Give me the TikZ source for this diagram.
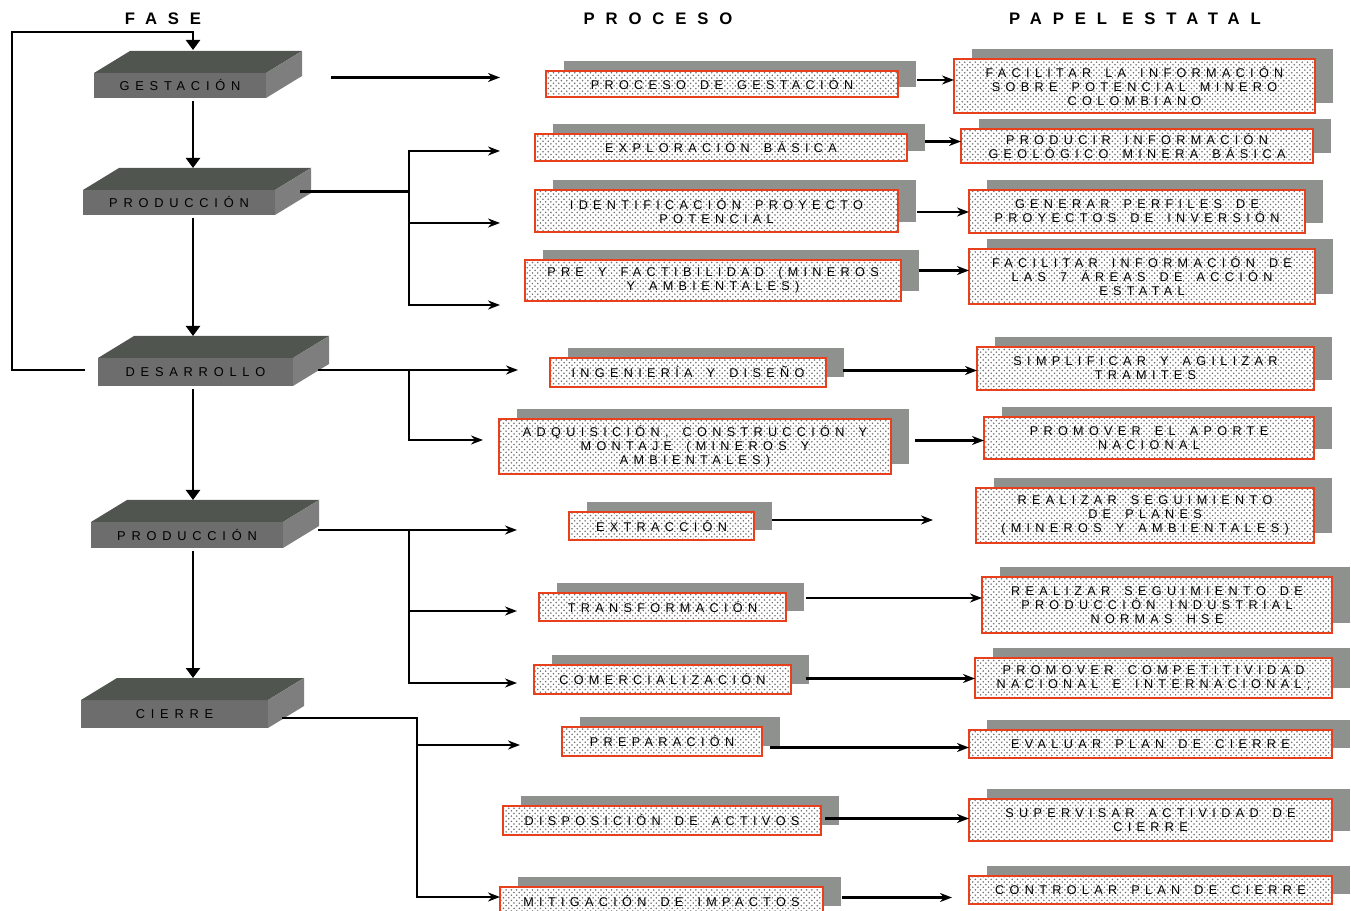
\documentclass[tikz,border=0pt]{standalone}
\usepackage{fontspec}
\setmainfont{Liberation Sans}
\newfontfamily\boxfont[LetterSpace=42, WordSpace=1.6]{Liberation Sans}
\newfontfamily\phasefont[LetterSpace=45]{Liberation Sans}
\newfontfamily\headfont[LetterSpace=65]{Liberation Sans Bold}
\usepackage{tikz}
\usetikzlibrary{arrows.meta, positioning, calc, shadows, patterns}

\definecolor{boxred}{HTML}{E8401C}
\definecolor{shadowgray}{HTML}{8E918E}
\definecolor{phasetop}{HTML}{50554F}
\definecolor{phasefront}{HTML}{6D6D6D}
\definecolor{phaseside}{HTML}{7E7E7E}

\tikzset{
  head/.style={font=\headfont\fontsize{9.5}{10}\selectfont},
  phase/.style={fill=phasefront, inner sep=0pt, outer sep=0pt,
    font=\phasefont\fontsize{7.3}{8}\selectfont},
  pbox/.style={drop shadow={shadow xshift=3.6mm, shadow yshift=2mm, fill=shadowgray, opacity=1},
    preaction={fill=white}, pattern=crosshatch dots, pattern color=black!55,
    draw=boxred, line width=0.55mm, inner sep=0pt, outer sep=0pt, align=center,
    font=\boxfont\fontsize{7.2}{8}\selectfont},
  wire/.style={line width=0.45mm},
  harrow/.style={wire, -{Stealth[length=2.4mm, width=1.8mm]}},
  varrow/.style={wire, -{Triangle[length=2mm, width=2.8mm]}}
}

\begin{document}
\begin{tikzpicture}[x=0.2mm, y=-0.2mm]
  \useasboundingbox (0,0) rectangle (1351,911);

  % Encabezados
  \node[head] (fase) at (163,19) {FASE};
  \node[head] (proceso) at (658,19) {PROCESO};
  \node[head] (papel) at (1135,19) {PAPEL ESTATAL};

  % Fases (bloques en relieve)
  \foreach \n/\xa/\ya/\xb/\yb/\t in {gest/94/73/266/98/GESTACIÓN, prod1/83/190/275/215/PRODUCCIÓN,
      des/98/358/293/386/DESARROLLO, prod2/91/522/283/548/PRODUCCIÓN, cierre/81/700/268/728/CIERRE}{
    \node[phase, minimum width={(\xb-\xa)*0.2mm}, minimum height={(\yb-\ya)*0.2mm}] (\n) at ({(\xa+\xb)/2},{(\ya+\yb)/2}) {\t};
    \fill[phasetop] (\n.north west) -- +(36,-22) -- ([shift={(36,-22)}]\n.north east) -- (\n.north east) -- cycle;
    \fill[phaseside] (\n.north east) -- +(36,-22) -- ([shift={(36,-22)}]\n.south east) -- (\n.south east) -- cycle;
  }

  % Procesos
  \foreach \n/\xa/\ya/\xb/\yb/\t in {
      p1/546/71/898/97/{PROCESO DE GESTACIÓN},
      p2/535/134/907/161/{EXPLORACIÓN BÁSICA},
      p3/535/190/898/232/{IDENTIFICACIÓN PROYECTO\\POTENCIAL},
      p4/525/260/901/301/{PRE Y FACTIBILIDAD (MINEROS\\Y AMBIENTALES)},
      p5/550/358/826/387/{INGENIERÍA Y DISEÑO},
      p6/499/419/891/474/{ADQUISICIÓN, CONSTRUCCIÓN Y\\MONTAJE (MINEROS Y\\AMBIENTALES)},
      p7/569/512/754/540/{EXTRACCIÓN},
      p8/539/593/786/621/{TRANSFORMACIÓN},
      p9/534/665/791/694/{COMERCIALIZACIÓN},
      p10/562/727/762/756/{PREPARACIÓN},
      p11/503/806/821/835/{DISPOSICIÓN DE ACTIVOS},
      p12/500/887/823/916/{MITIGACIÓN DE IMPACTOS}}
    \node[pbox, minimum width={(\xb-\xa)*0.2mm}, minimum height={(\yb-\ya)*0.2mm}] (\n) at ({(\xa+\xb)/2},{(\ya+\yb)/2}) {\t};

  % Papel estatal
  \foreach \n/\xa/\ya/\xb/\yb/\t in {
      r1/954/59/1315/113/{FACILITAR LA INFORMACIÓN\\SOBRE POTENCIAL MINERO\\COLOMBIANO},
      r2/961/129/1313/163/{PRODUCIR INFORMACIÓN\\GEOLÓGICO MINERA BÁSICA},
      r3/969/190/1305/233/{GENERAR PERFILES DE\\PROYECTOS DE INVERSIÓN},
      r4/969/249/1315/304/{FACILITAR INFORMACIÓN DE\\LAS 7 ÁREAS DE ACCIÓN\\ESTATAL},
      r5/977/347/1314/390/{SIMPLIFICAR Y AGILIZAR\\TRAMITES},
      r6/984/417/1314/459/{PROMOVER EL APORTE\\NACIONAL},
      r7/976/488/1314/543/{REALIZAR SEGUIMIENTO\\DE PLANES\\(MINEROS Y AMBIENTALES)},
      r8/982/577/1332/633/{REALIZAR SEGUIMIENTO DE\\PRODUCCIÓN INDUSTRIAL\\NORMAS HSE},
      r9/975/658/1332/698/{PROMOVER COMPETITIVIDAD\\NACIONAL E INTERNACIONAL;},
      r10/969/730/1332/758/{EVALUAR PLAN DE CIERRE},
      r11/969/799/1332/841/{SUPERVISAR ACTIVIDAD DE\\CIERRE},
      r12/969/876/1332/904/{CONTROLAR PLAN DE CIERRE}}
    \node[pbox, minimum width={(\xb-\xa)*0.2mm}, minimum height={(\yb-\ya)*0.2mm}] (\n) at ({(\xa+\xb)/2},{(\ya+\yb)/2}) {\t};

  % Secuencia de fases
  \coordinate (vx) at (193,0);
  \foreach \a/\b in {gest/prod1, prod1/des, des/prod2, prod2/cierre}
    \draw[varrow] ($(\a.south -| vx)+(0,3)$) -- ($(\b.north -| vx)+(0,-22)$);
  \coordinate (loop) at (12,32);
  \draw[varrow] ($(des.west)+(-13,-2)$) -| (loop) -| ($(gest.north -| vx)+(0,-23)$);

  % Fase -> proceso
  \coordinate (bx) at (409,0);
  \coordinate (cx) at (417,0);
  \coordinate (gest-o) at ($(gest.east)+(65,-8)$);
  \coordinate (prod1-o) at ($(prod1.east)+(25,-11)$);
  \coordinate (des-o) at ($(des.east)+(25,-2)$);
  \coordinate (prod2-o) at ($(prod2.east)+(35,-5)$);
  \coordinate (cierre-o) at ($(cierre.east)+(14,4)$);
  \coordinate (t1) at (500,78);
  \coordinate (t2) at (500,151);
  \coordinate (t3) at (500,223);
  \coordinate (t4) at (500,305);
  \coordinate (t5) at (518,370);
  \coordinate (t6) at (483,440);
  \coordinate (t7) at (517,530);
  \coordinate (t8) at (517,611);
  \coordinate (t9) at (517,683);
  \coordinate (t10) at (520,745);
  \coordinate (t11) at (500,897);
  \draw[harrow] (gest-o) -- (gest-o -| t1);
  \foreach \a/\t in {prod1/t2, prod1/t3, prod1/t4, des/t5, des/t6, prod2/t7, prod2/t8, prod2/t9}
    \draw[harrow] (\a-o) -| (\t -| bx) -- (\t);
  \foreach \t in {t10, t11}
    \draw[harrow] (cierre-o) -| (\t -| cx) -- (\t);

  % Proceso -> papel estatal
  \coordinate (f7) at (933,520);
  \coordinate (f12) at (952,897);
  \foreach \p/\r/\dx/\dy in {p1/r1.west/19/-4, p2/r2.west/18/-6, p3/r3.west/19/1, p4/r4.west/18/-10,
      p5/r5.west/17/-2, p6/r6.west/24/-6, p7/f7/18/-6, p8/r8.west/20/-9, p9/r9.west/15/-1,
      p10/r10.west/8/6, p11/r11.west/4/-2, p12/f12/19/-4}
    \draw[harrow] ($(\p.east)+(\dx,\dy)$) coordinate (s) -- (s -| \r);
\end{tikzpicture}
\end{document}
